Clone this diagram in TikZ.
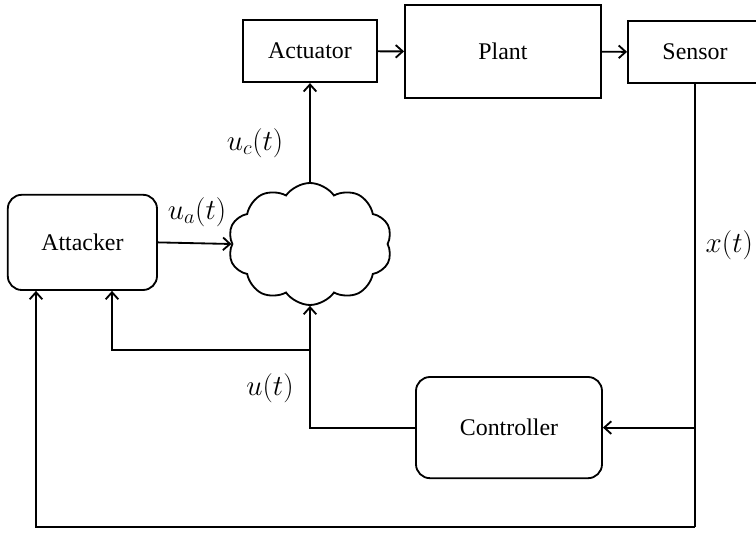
\documentclass[tikz,border=0pt]{standalone}
\usepackage{fontspec}
\setmainfont{Liberation Serif}
\usepackage{tikz}
\usetikzlibrary{arrows.meta,positioning,shapes.symbols}

\begin{document}
\begin{tikzpicture}[x=1cm,y=1cm,>={Straight Barb[length=5pt,width=9pt]},line width=1.3pt,
  font=\fontsize{17}{20}\selectfont,
  blk/.style={draw,minimum height=1.55cm,inner sep=0pt},
  rblk/.style={draw,rounded corners=0.35cm,inner sep=0pt},
  lbl/.style={font=\fontsize{21}{24}\selectfont,inner sep=1pt}]
\useasboundingbox (0,0) rectangle (18.9,13.4);
\node[blk,minimum width=3.33cm] (act) at (7.75,12.12) {Actuator};
\node[blk,minimum width=4.9cm,minimum height=2.33cm] (plant) at (12.575,12.11) {Plant};
\node[blk,minimum width=3.35cm] (sens) at (17.375,12.1) {Sensor};
\node[rblk,minimum width=3.73cm,minimum height=2.38cm] (atk) at (2.06,7.34) {Attacker};
\node[rblk,minimum width=4.65cm,minimum height=2.53cm] (ctrl) at (12.725,2.71) {Controller};
\node[cloud,draw,cloud puffs=10,cloud puff arc=110,aspect=1.4,minimum width=4.1cm,minimum height=3.05cm] (net) at (7.75,7.3) {};
\coordinate (jn) at (7.75,4.65);
\coordinate (tap) at (sens.south |- ctrl.east);
\coordinate (bot) at (17.375,0.225);
\draw[->] (act)--(plant);
\draw[->] (plant)--(sens);
\draw[->] (net.north)--(act.south);
\draw[->] (atk.east)--(net.west);
\draw[->] (ctrl.west)-|(net.south);
\draw[->] (jn)-|([xshift=0.74cm]atk.south);
\draw (sens.south)--(bot);
\draw[->] (tap)--(ctrl.east);
\draw[->] (bot)-|([xshift=-1.16cm]atk.south);
\node[lbl] at (6.375,9.825) {$u_c(t)$};
\node[lbl] at (4.925,8.1) {$u_a(t)$};
\node[lbl,anchor=east] at (18.88,7.275) {$x(t)$};
\node[lbl] at (6.75,3.7) {$u(t)$};
\end{tikzpicture}
\end{document}
